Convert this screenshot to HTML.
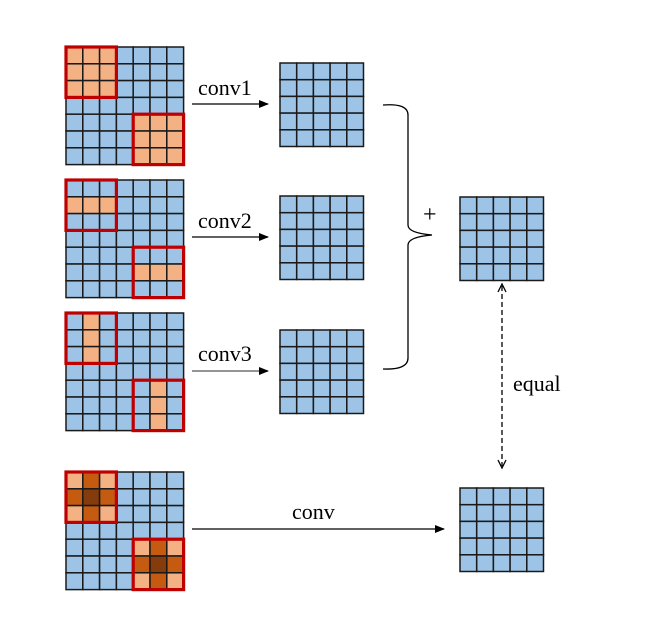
<!DOCTYPE html>
<html><head><meta charset="utf-8"><style>
html,body{margin:0;padding:0;background:#fff;}
svg{display:block;}
text{font-family:"Liberation Serif",serif;fill:#000;}
</style></head><body>
<svg id="s" width="647" height="625" viewBox="0 0 647 625" xmlns="http://www.w3.org/2000/svg">
<defs><marker id="ah" markerWidth="10" markerHeight="8" refX="9" refY="4" orient="auto" markerUnits="userSpaceOnUse"><path d="M0,0 L10,4 L0,8 z" fill="#000"/></marker>
<marker id="oa" markerWidth="10" markerHeight="10" refX="5" refY="1" orient="auto-start-reverse" markerUnits="userSpaceOnUse"></marker></defs>
<g id="g"></g>
<line x1="192" y1="104" x2="268" y2="104" stroke="#000" stroke-width="1.3" marker-end="url(#ah)"/>
<line x1="192" y1="237" x2="268" y2="237" stroke="#000" stroke-width="1.3" marker-end="url(#ah)"/>
<line x1="192" y1="371" x2="268" y2="371" stroke="#555" stroke-width="1.3" marker-end="url(#ah)"/>
<line x1="192" y1="529" x2="444" y2="529" stroke="#000" stroke-width="1.3" marker-end="url(#ah)"/>
<text x="198" y="95" font-size="22">conv1</text>
<text x="198" y="228" font-size="22">conv2</text>
<text x="198" y="361" font-size="22">conv3</text>
<text x="292" y="519" font-size="22">conv</text>
<text x="513" y="391" font-size="22">equal</text>
<text x="423" y="222" font-size="24" font-family="Liberation Sans,sans-serif">+</text>
<path d="M383,105 Q408,103 408,115 L408,225 Q408,233 432,235 Q408,237 408,245 L408,358 Q408,370 383,369" fill="none" stroke="#000" stroke-width="1.3"/>
<line x1="502" y1="286" x2="502" y2="466" stroke="#000" stroke-width="1.3" stroke-dasharray="5,3"/>
<path d="M498,292 L502,284 L506,292" fill="none" stroke="#000" stroke-width="1.3"/>
<path d="M498,460 L502,468 L506,460" fill="none" stroke="#000" stroke-width="1.3"/>
</svg>
<script>
var g=document.getElementById('g'),ns='http://www.w3.org/2000/svg';
function r(x,y,w,h,f,s,sw){var e=document.createElementNS(ns,'rect');e.setAttribute('x',x);e.setAttribute('y',y);e.setAttribute('width',w);e.setAttribute('height',h);e.setAttribute('fill',f||'none');if(s){e.setAttribute('stroke',s);e.setAttribute('stroke-width',sw);}g.appendChild(e);}
var B='#9dc3e6',O='#f4b183',D='#c55a11',K='#843c0c';
function grid(x,y,n,c,col){for(var i=0;i<n;i++)for(var j=0;j<n;j++){r(x+j*c,y+i*c,c,c,(col&&col(i,j))||B,'#1a1a1a',1.5);}}
var c=16.8;
function box(x,y,i0,j0){r(x+j0*c,y+i0*c,3*c,3*c,'none','#c00000',3.2);}
function inb(i,j,a,b){return i>=a&&i<a+3&&j>=b&&j<b+3;}
var L=66,ys=[47,180,313,472];
grid(L,ys[0],7,c,function(i,j){return (inb(i,j,0,0)||inb(i,j,4,4))?O:0;});
grid(L,ys[1],7,c,function(i,j){return ((i==1&&j<3)||(i==5&&j>=4))?O:0;});
grid(L,ys[2],7,c,function(i,j){return ((j==1&&i<3)||(j==5&&i>=4))?O:0;});
grid(L,ys[3],7,c,function(i,j){var a=inb(i,j,0,0)?[i,j]:inb(i,j,4,4)?[i-4,j-4]:null;if(!a)return 0;var ci=a[0]==1,cj=a[1]==1;return ci&&cj?K:(ci||cj)?D:O;});
ys.forEach(function(y){box(L,y,0,0);box(L,y,4,4);});
var m=16.7;
grid(280,63,5,m);grid(280,196,5,m);grid(280,330,5,m);
grid(460,197,5,m);grid(460,488,5,m);
</script>
</body></html>
